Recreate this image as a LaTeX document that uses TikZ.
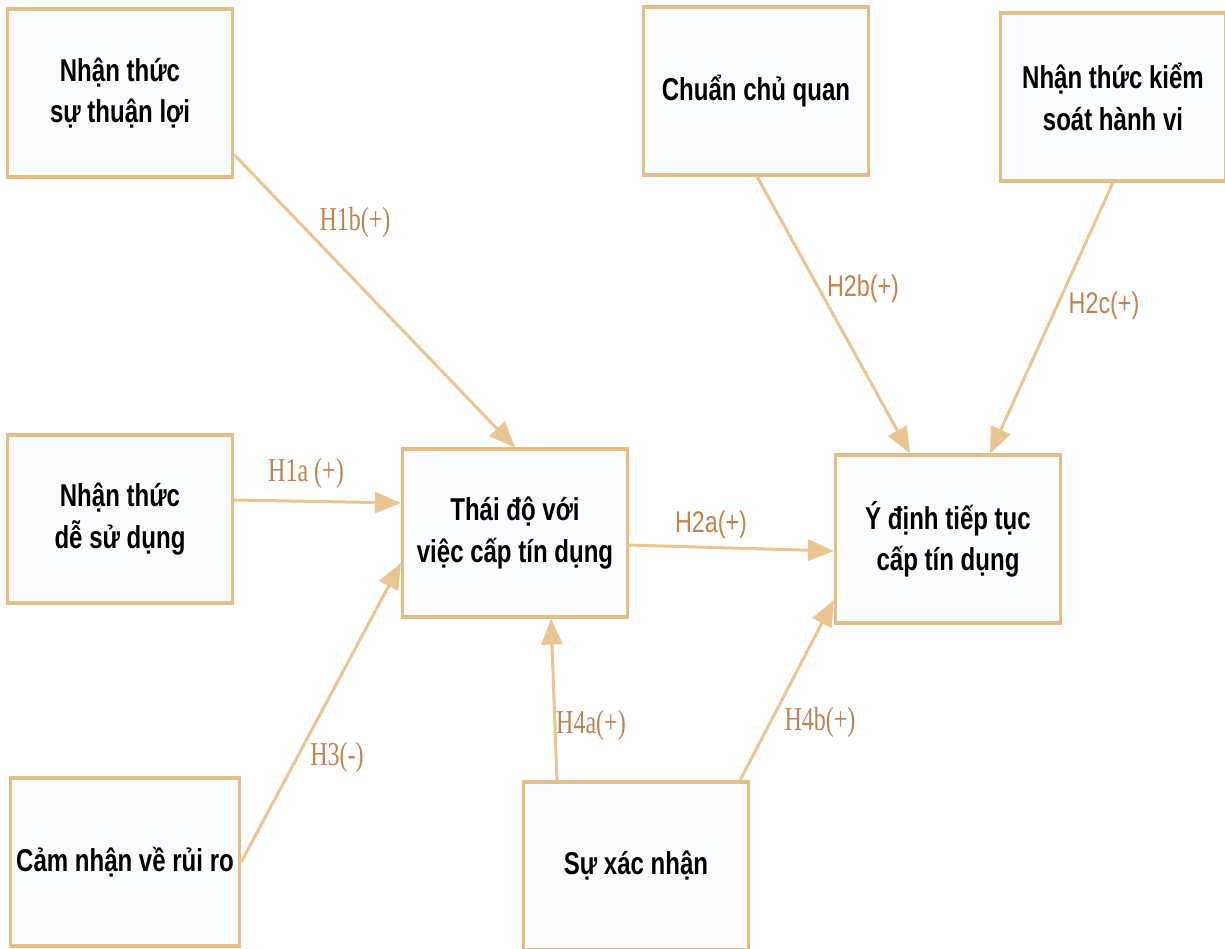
\documentclass[tikz,border=0pt]{standalone}
\usepackage{fontspec}
\setmainfont{Liberation Serif}
\newfontfamily\boxfont[FakeStretch=0.76]{Liberation Sans}
\newfontfamily\hserif[FakeStretch=0.72]{Liberation Serif}
\newfontfamily\hsans[FakeStretch=0.78]{Liberation Sans}
\usetikzlibrary{arrows.meta,calc}
\definecolor{boxline}{HTML}{E2BE8A}
\definecolor{boxfill}{HTML}{FBFCFE}
\definecolor{arrowcol}{HTML}{E8C592}
\definecolor{lblcol}{HTML}{B98457}
\definecolor{lblcolb}{HTML}{C2824E}
\tikzset{
  box/.style={draw=boxline,line width=1.8pt,fill=boxfill,minimum width=4.5cm,minimum height=3.36cm,
    align=center,font=\boxfont\bfseries\fontsize{18}{23.5}\selectfont},
  hyp/.style={draw=arrowcol,line width=1.7pt,-{Triangle[length=0.52cm,width=0.42cm]}},
  lbl/.style={text=lblcol,font=\hserif\fontsize{19}{22}\selectfont},
  lblb/.style={text=lblcolb,font=\hsans\fontsize{17}{20}\selectfont}
}
\begin{document}
\begin{tikzpicture}[x=0.02cm,y=-0.02cm]
      \useasboundingbox (0,0) rectangle (1225,949);
      \node[box] (thuanloi) at (120,93) {Nhận thức\\sự thuận lợi};
      \node[box] (desudung) at (120,519) {Nhận thức\\dễ sử dụng};
      \node[box] (ruiro) at (125,862) {Cảm nhận về rủi ro};
      \node[box] (thaido) at (515,533) {Thái độ với\\việc cấp tín dụng};
      \node[box] (xacnhan) at (636,866) {Sự xác nhận};
      \node[box] (ydinh) at (948,539) {Ý định tiếp tục\\cấp tín dụng};
      \node[box] (chuan) at (756,91) {Chuẩn chủ quan};
      \node[box] (kiemsoat) at (1113,97) {Nhận thức kiểm\\soát hành vi};
      \begin{scope}[hyp]
        \draw ($(thuanloi.south east)+(0,-24)$) to (thaido.north);
        \draw ($(desudung.east)+(0,-19)$) to ($(thaido.west)+(0,-30)$);
        \draw (ruiro.east) to ($(thaido.west)+(0,30)$);
        \draw ($(thaido.east)+(0,12)$) to ($(ydinh.west)+(0,12)$);
        \draw ($(xacnhan.north)+(-79,0)$) to ($(thaido.south)+(36,0)$);
        \draw ($(xacnhan.north)+(104,0)$) to ($(ydinh.west)+(0,61)$);
        \draw ($(chuan.south)+(1,0)$) to ($(ydinh.north)+(-38,0)$);
        \draw (kiemsoat.south) to ($(ydinh.north)+(42,0)$);
      \end{scope}
      \node[lbl] (h1b) at (355,222) {H1b(+)};
      \node[lbl] (h1a) at (306,473) {H1a (+)};
      \node[lbl] (h3) at (337,757) {H3(-)};
      \node[lblb] (h2a) at (711,525) {H2a(+)};
      \node[lbl] (h4a) at (591,725) {H4a(+)};
      \node[lbl] (h4b) at (820,722) {H4b(+)};
      \node[lblb] (h2b) at (863,289) {H2b(+)};
      \node[lblb] (h2c) at (1104,306) {H2c(+)};
\end{tikzpicture}
\end{document}
